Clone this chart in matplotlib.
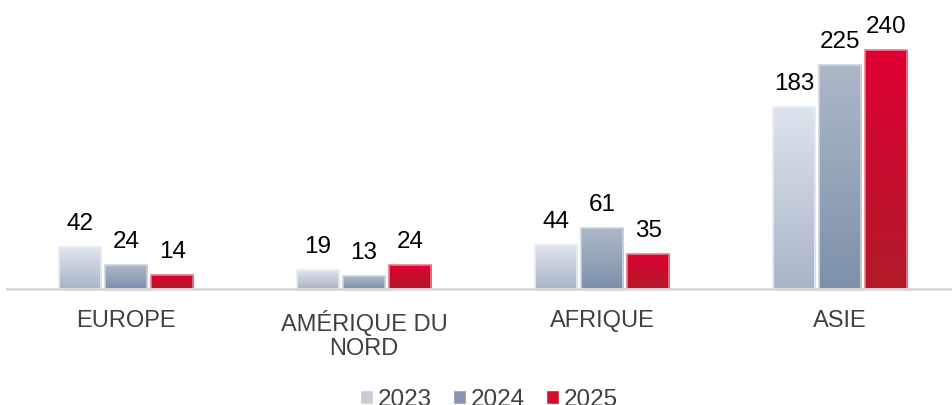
import numpy as np
import matplotlib
matplotlib.use("Agg")
import matplotlib.pyplot as plt
from matplotlib.colors import LinearSegmentedColormap
from matplotlib.patches import Patch

plt.rcParams['font.family'] = ['Liberation Sans', 'DejaVu Sans']

categories = ["EUROPE", "AMÉRIQUE DU\nNORD", "AFRIQUE", "ASIE"]
series_names = ["2023", "2024", "2025"]
v2023 = [42, 19, 44, 183]
v2024 = [24, 13, 61, 225]
v2025 = [14, 24, 35, 240]
values = [v2023, v2024, v2025]

grad_top = ["#dfe5ee", "#adb8c8", "#de0032"]
grad_bot = ["#a9b4c5", "#7d90aa", "#b11b29"]
edge_cols = ["#e8ecf2", "#cdd4de", "#ea7d8d"]
legend_cols = ["#c5cdd9", "#8797ad", "#d20f2f"]

W, H, DPI = 952, 405, 100
fig = plt.figure(figsize=(W / DPI, H / DPI), dpi=DPI)
base_px = 289
top_px = 10
ax = fig.add_axes([7 / W, (H - base_px) / H, 1 - 7 / W + 10 / W, (base_px - top_px) / H])

x = np.arange(len(categories))
bw = 0.177
step = 0.194
ymax = (base_px - top_px) / (239 / 240)

for i, vals in enumerate(values):
    off = (i - 1) * step
    bars = ax.bar(x + off, vals, width=bw, color="none", edgecolor=edge_cols[i], linewidth=1.2, zorder=3)
    cmap = LinearSegmentedColormap.from_list("g%d" % i, [grad_bot[i], grad_top[i]])
    for rect, v in zip(bars, vals):
        x0 = rect.get_x()
        grad = np.linspace(0, 1, 256).reshape(-1, 1)
        im = ax.imshow(grad, cmap=cmap, aspect="auto", origin="lower",
                       extent=(x0, x0 + bw, 0, v), zorder=2, interpolation="bicubic")
        im.set_clip_path(rect)
        ax.annotate(str(v), (x0 + bw / 2, v), xytext=(0, 12), textcoords="offset pixels",
                    ha="center", va="bottom", fontsize=17.5, color="#000000", zorder=5,
                    bbox=dict(boxstyle="square,pad=0.15", fc="white", ec="none"))

ax.set_xlim(-0.5, 3 + (W + 10 - 840) / 238)
ax.set_ylim(0, ymax)
ax.set_xticks(x)
ax.set_xticklabels(categories, fontsize=17, color="#404040", linespacing=1.15)
ax.tick_params(axis="x", length=0, pad=15)
ax.set_yticks([])
for s in ["top", "right", "left"]:
    ax.spines[s].set_visible(False)
ax.spines["bottom"].set_color("#d9d9d9")
ax.spines["bottom"].set_linewidth(2)
ax.spines["bottom"].set_zorder(4)

handles = [Patch(facecolor=c, edgecolor="white") for c in legend_cols]
fig.legend(handles, series_names, loc="center", bbox_to_anchor=(489 / W, 5 / H), ncol=3,
           frameon=False, fontsize=17.5, handlelength=0.5, handleheight=0.5,
           handletextpad=0.2, columnspacing=0.9, labelcolor="#404040")

fig.savefig("out.png", dpi=DPI)
